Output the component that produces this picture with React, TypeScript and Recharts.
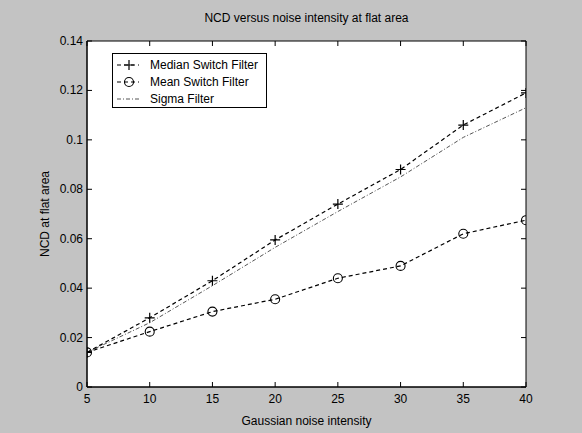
import { LineChart, Line, XAxis, YAxis, ReferenceArea } from 'recharts'

const noiseLevels = [5, 10, 15, 20, 25, 30, 35, 40]
const medianSwitch = [0.014, 0.028, 0.043, 0.0595, 0.074, 0.088, 0.106, 0.119]
const meanSwitch = [0.014, 0.0224, 0.0305, 0.0355, 0.044, 0.049, 0.062, 0.0675]
const sigmaFilter = [0.014, 0.026, 0.041, 0.0565, 0.071, 0.085, 0.101, 0.113]
const xTicks = [5, 10, 15, 20, 25, 30, 35, 40]
const yTicks = [0, 0.02, 0.04, 0.06, 0.08, 0.1, 0.12, 0.14]
const seriesNames = ['Median Switch Filter', 'Mean Switch Filter', 'Sigma Filter']

const data = noiseLevels.map((n, i) => ({
  n,
  median: medianSwitch[i],
  mean: meanSwitch[i],
  sigma: sigmaFilter[i],
}))

const font = '"Liberation Sans", Arial, Helvetica, sans-serif'
const fmt = (v: number) => String(Number(v.toFixed(2)))

// plot box size, used to mirror the ticks onto the top / right edges
const PLOT_W = 439
const PLOT_H = 346

// matlab style: ticks point into the box on all four sides, labels outside
function BottomTick({ x, y, payload }: any) {
  return (
    <g>
      <line x1={x} y1={y} x2={x} y2={y - 5} stroke="#000" />
      <line x1={x} y1={y - PLOT_H} x2={x} y2={y - PLOT_H + 5} stroke="#000" />
      <text x={x} y={y + 16} textAnchor="middle" fontSize={12} fontFamily={font} fill="#000">
        {payload.value}
      </text>
    </g>
  )
}

function LeftTick({ x, y, payload }: any) {
  return (
    <g>
      <line x1={x} y1={y} x2={x + 5} y2={y} stroke="#000" />
      <line x1={x + PLOT_W} y1={y} x2={x + PLOT_W - 5} y2={y} stroke="#000" />
      <text x={x - 4} y={y + 4} textAnchor="end" fontSize={12} fontFamily={font} fill="#000">
        {fmt(payload.value)}
      </text>
    </g>
  )
}

function PlusDot({ cx, cy }: any) {
  if (cx == null || cy == null) return null
  return <path d={`M${cx - 5},${cy}h10M${cx},${cy - 5}v10`} stroke="#000" strokeWidth={1.2} fill="none" />
}

function CircleDot({ cx, cy }: any) {
  if (cx == null || cy == null) return null
  return <circle cx={cx} cy={cy} r={4.5} stroke="#000" strokeWidth={1.1} fill="none" />
}

function LegendBox() {
  const rows = [11, 28, 45]
  return (
    <div
      style={{
        position: 'absolute',
        left: 112,
        top: 53,
        width: 155,
        height: 55,
        background: '#fff',
        border: '1px solid #000',
        boxSizing: 'border-box',
      }}
    >
      <svg width={153} height={53} style={{ display: 'block' }}>
        <line x1={4} y1={rows[0]} x2={26} y2={rows[0]} stroke="#000" strokeDasharray="4 3" strokeWidth={1.2} />
        <PlusDot cx={16} cy={rows[0]} />
        <line x1={4} y1={rows[1]} x2={26} y2={rows[1]} stroke="#000" strokeDasharray="4 3" strokeWidth={1.2} />
        <CircleDot cx={16} cy={rows[1]} />
        <line x1={4} y1={rows[2]} x2={26} y2={rows[2]} stroke="#555" strokeDasharray="4 2 1 2" strokeWidth={1} />
        {seriesNames.map((s, i) => (
          <text key={s} x={37} y={rows[i] + 4} fontSize={12} fontFamily={font} fill="#000">
            {s}
          </text>
        ))}
      </svg>
    </div>
  )
}

export default function App() {
  return (
    <div style={{ position: 'absolute', left: 0, top: 0, width: 582, height: 433, background: '#c3c3c3' }}>
      <LineChart width={582} height={433} data={data} margin={{ top: 41, right: 56, bottom: 45, left: 47 }}>
        <ReferenceArea x1={5} x2={40} y1={0} y2={0.14} fill="#fff" fillOpacity={1} stroke="#000" strokeWidth={1} />
        <XAxis
          dataKey="n"
          type="number"
          domain={[5, 40]}
          ticks={xTicks}
          allowDataOverflow
          height={1}
          tickSize={0}
          tickMargin={0}
          tickLine={false}
          tick={<BottomTick />}
          axisLine={{ stroke: '#000' }}
          label={{
            content: ({ viewBox }: any) => (
              <text x={viewBox.x + viewBox.width / 2} y={viewBox.y + 38} textAnchor="middle" fontSize={12} fontFamily={font} fill="#000">
                Gaussian noise intensity
              </text>
            ),
          }}
        />
        <YAxis
          type="number"
          domain={[0, 0.14]}
          ticks={yTicks}
          allowDataOverflow
          width={40}
          tickSize={0}
          tickMargin={0}
          tickLine={false}
          tick={<LeftTick />}
          axisLine={{ stroke: '#000' }}
          label={{
            content: ({ viewBox }: any) => {
              const cx = viewBox.x + 2
              const cy = viewBox.y + viewBox.height / 2
              const plotMid = viewBox.x + viewBox.width + PLOT_W / 2
              return (
                <g>
                  <text x={cx} y={cy} transform={`rotate(-90 ${cx} ${cy})`} textAnchor="middle" fontSize={12} fontFamily={font} fill="#000">
                    NCD at flat area
                  </text>
                  <text x={plotMid} y={viewBox.y - 19} textAnchor="middle" fontSize={12} fontFamily={font} fill="#000">
                    NCD versus noise intensity at flat area
                  </text>
                </g>
              )
            },
          }}
        />
        <Line
          dataKey="sigma"
          type="linear"
          stroke="#555"
          strokeWidth={1}
          strokeDasharray="4 2 1 2"
          dot={false}
          activeDot={false}
          isAnimationActive={false}
        />
        <Line
          dataKey="mean"
          type="linear"
          stroke="#000"
          strokeWidth={1.2}
          strokeDasharray="4 3"
          dot={<CircleDot />}
          activeDot={false}
          isAnimationActive={false}
        />
        <Line
          dataKey="median"
          type="linear"
          stroke="#000"
          strokeWidth={1.2}
          strokeDasharray="4 3"
          dot={<PlusDot />}
          activeDot={false}
          isAnimationActive={false}
        />
      </LineChart>
      <LegendBox />
    </div>
  )
}
